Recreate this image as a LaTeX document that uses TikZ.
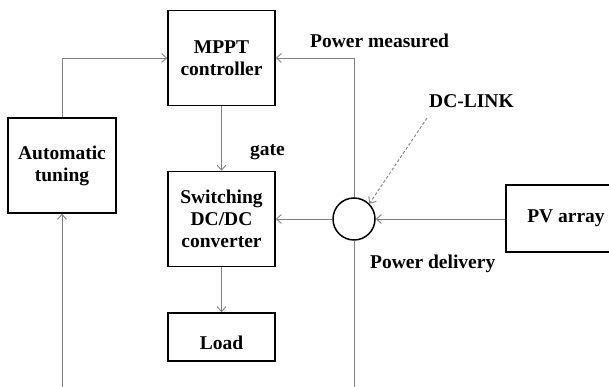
\documentclass[tikz,border=0pt]{standalone}
\usepackage{fontspec}
\setmainfont{Liberation Serif}
\usetikzlibrary{arrows.meta}
\begin{document}
\begin{tikzpicture}[x=1pt,y=1pt,
  every node/.style={font=\bfseries\fontsize{19.5}{22}\selectfont},
  blockbox/.style={draw=black,line width=1.5pt,align=center,inner sep=0pt},
  link/.style={draw=black!50,line width=0.9pt},
  arr/.style={link,-{Straight Barb[length=5pt,width=9pt]}},
  dasharr/.style={draw=black!50,line width=0.9pt,dash pattern=on 3pt off 2pt,-{Straight Barb[length=5pt,width=9pt]}},
  lbl/.style={anchor=base west,inner sep=0pt}]
\useasboundingbox (0,0) rectangle (609,387);
\node[blockbox,minimum width=107pt,minimum height=95pt] (mppt) at (221.5,329) {MPPT\\controller};
\node[blockbox,minimum width=108pt,minimum height=95pt] (auto) at (62,221.5) {Automatic\\tuning};
\node[blockbox,minimum width=107pt,minimum height=95pt] (sw) at (221.5,168) {Switching\\DC/DC\\converter};
\node[blockbox,minimum width=107pt,minimum height=48pt,text height=26pt,text depth=0pt] (load) at (221.5,50) {Load};
\node[blockbox,minimum width=120pt,minimum height=67pt] (pv) at (566,168.5) {PV array};
\node[draw=black,line width=1.5pt,circle,minimum size=42pt,inner sep=0pt] (dc) at (354,168) {};
\coordinate (tr) at (354,329);
\coordinate (tl) at (62,329);
\coordinate (br) at (354,-10);
\coordinate (bl) at (62,-10);
\node[lbl] (pm) at (310,339) {Power measured};
\node[lbl] (dcl) at (429,279) {DC-LINK};
\node[lbl] (pd) at (370,118) {Power delivery};
\node[lbl] (gate) at (250,231) {gate};
\coordinate (dstart) at (427,269);
% connectors
\draw[arr] (auto.north) -- (tl) -- (mppt.west);
\draw[arr] (dc.north) -- (tr) -- (mppt.east);
\draw[arr] (mppt.south) -- (sw.north);
\draw[arr] (sw.south) -- (load.north);
\draw[arr] (dc.west) -- (sw.east);
\draw[arr] (pv.west |- dc.east) -- (dc.east);
\draw[arr] (dc.south) -- (br) -- (bl) -- (auto.south);
\draw[dasharr] (dstart) -- (dc.north east);
\end{tikzpicture}
\end{document}
